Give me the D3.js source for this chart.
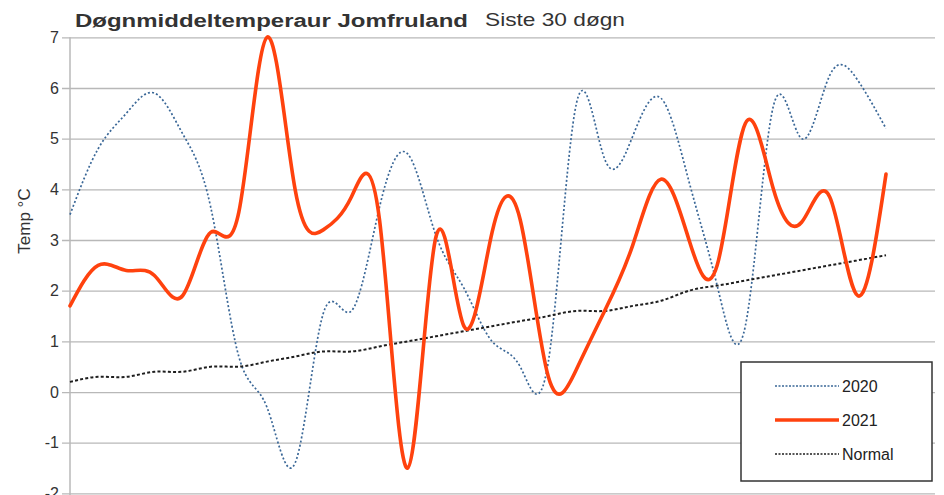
<!DOCTYPE html>
<html>
<head>
<meta charset="utf-8">
<script src="https://cdn.jsdelivr.net/npm/d3@7"></script>
<style>
  body { margin: 0; background: #fff; }
  svg { display: block; }
</style>
</head>
<body>
<svg id="chart" width="944" height="495"></svg>
<script>
// siste 30 døgn, dag 1..30
var days = d3.range(1, 31);
var temp2020 = [3.5, 4.8, 5.5, 5.9, 5.1, 3.65, 0.7, -0.3, -1.4, 1.55,
                1.6, 3.65, 4.7, 3.1, 2.05, 1.0, 0.5, 0.6, 5.7, 4.6,
                5.05, 5.8, 4.15, 2.1, 1.3, 5.65, 5.0, 6.25, 6.15, 5.2];
var temp2021 = [1.7, 2.5, 2.4, 2.3, 1.9, 3.15, 3.55, 7.0, 4.0, 3.2,
                3.85, 3.4, -1.5, 3.05, 1.3, 3.15, 3.4, 0.3, 0.45, 1.6,
                2.9, 4.2, 3.0, 2.5, 5.3, 4.0, 3.35, 3.85, 1.9, 4.3];
var normal = [0.2, 0.3, 0.3, 0.4, 0.4, 0.5, 0.5, 0.6, 0.7, 0.8,
              0.8, 0.9, 1.0, 1.1, 1.2, 1.3, 1.4, 1.5, 1.6, 1.6,
              1.7, 1.8, 2.0, 2.1, 2.2, 2.3, 2.4, 2.5, 2.6, 2.7];
var yTicks = [-2, -1, 0, 1, 2, 3, 4, 5, 6, 7];

var svg = d3.select("svg#chart"),
    pLeft = 70, pRight = 935, lastX = 886,
    pTop = 37.3, pBottom = 493.4;

var x = d3.scaleLinear().domain([1, 30]).range([pLeft, lastX]),
    y = d3.scaleLinear().domain([-2, 7]).range([pBottom, pTop]);

var line = d3.line()
    .curve(d3.curveNatural)
    .x(function(d, i) { return x(days[i]); })
    .y(function(d) { return y(d); });

// grid + y axis
var yAxis = d3.axisLeft(y)
    .tickValues(yTicks)
    .tickFormat(function(d) { return String(d); })
    .tickSize(-(pRight - pLeft))
    .tickPadding(11);
var ga = svg.append("g")
    .attr("transform", "translate(" + pLeft + ",0)")
    .call(yAxis);
ga.select(".domain").remove();
ga.selectAll(".tick line")
    .attr("x1", -8)
    .attr("stroke", "#b8b8b8")
    .attr("stroke-width", 1.3);
ga.selectAll(".tick text")
    .attr("font-family", "Liberation Sans, Arial, sans-serif")
    .attr("font-size", 16)
    .attr("fill", "#333");

svg.append("line")
    .attr("x1", pLeft).attr("x2", pLeft)
    .attr("y1", pTop).attr("y2", 495)
    .attr("stroke", "#b8b8b8")
    .attr("stroke-width", 1.5);

svg.append("text")
    .attr("transform", "translate(30,221) rotate(-90)")
    .attr("text-anchor", "middle")
    .attr("font-family", "Liberation Sans, Arial, sans-serif")
    .attr("font-size", 17)
    .attr("fill", "#333")
    .text("Temp °C");

// series
var series = [
  {name: "2020", values: temp2020, color: "#3a6797", width: 1.7, dash: "2,2.2"},
  {name: "2021", values: temp2021, color: "#ff420e", width: 3.6, dash: null},
  {name: "Normal", values: normal, color: "#1e1e1e", width: 2, dash: "3,2.2"}
];

var plot = svg.append("g");
[series[0], series[2], series[1]].forEach(function(s) {
  plot.append("path")
      .datum(s.values)
      .attr("fill", "none")
      .attr("stroke", s.color)
      .attr("stroke-width", s.width)
      .attr("stroke-dasharray", s.dash)
      .attr("stroke-linejoin", "round")
      .attr("stroke-linecap", s.dash ? "butt" : "round")
      .attr("d", line);
});

// titles
svg.append("text")
    .attr("x", 75).attr("y", 27)
    .attr("font-family", "Liberation Sans, Arial, sans-serif")
    .attr("font-weight", "bold")
    .attr("font-size", 18)
    .attr("fill", "#333")
    .attr("textLength", 393)
    .attr("lengthAdjust", "spacingAndGlyphs")
    .text("Døgnmiddeltemperaur Jomfruland");
svg.append("text")
    .attr("x", 485).attr("y", 26)
    .attr("font-family", "Liberation Sans, Arial, sans-serif")
    .attr("font-size", 19)
    .attr("fill", "#333")
    .attr("textLength", 140)
    .attr("lengthAdjust", "spacingAndGlyphs")
    .text("Siste 30 døgn");

// legend
var lg = svg.append("g").attr("transform", "translate(741,362)");
lg.append("rect")
    .attr("width", 191).attr("height", 119)
    .attr("fill", "#fff")
    .attr("stroke", "#333")
    .attr("stroke-width", 1.5);
var li = lg.selectAll("g.item").data(series).enter().append("g")
    .attr("class", "item")
    .attr("transform", function(d, i) { return "translate(0," + (24 + i * 34) + ")"; });
li.append("line")
    .attr("x1", 34).attr("x2", 98)
    .attr("stroke", function(d) { return d.color; })
    .attr("stroke-width", function(d) { return d.name == "2021" ? 3.6 : 1.3; })
    .attr("stroke-dasharray", function(d) { return d.dash ? "2,1.5" : null; });
li.append("text")
    .attr("x", 101).attr("dy", "0.35em")
    .attr("font-family", "Liberation Sans, Arial, sans-serif")
    .attr("font-size", 16)
    .attr("fill", "#222")
    .text(function(d) { return d.name; });
</script>
</body>
</html>
